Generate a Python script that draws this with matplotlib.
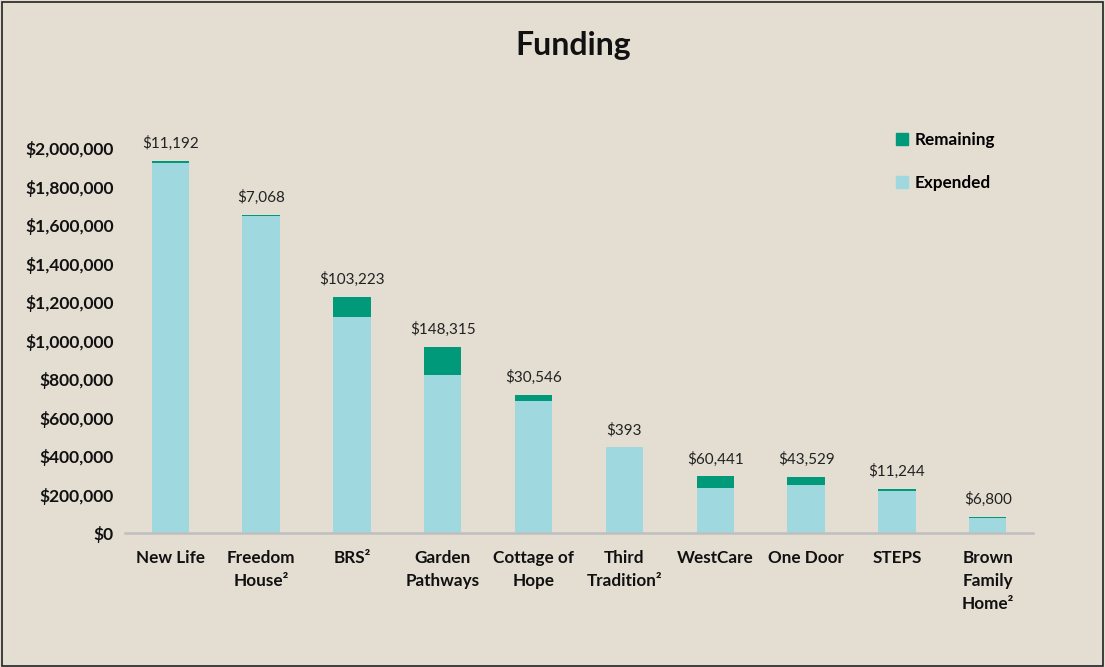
import matplotlib
matplotlib.use("Agg")
import matplotlib.pyplot as plt
from matplotlib.patches import Rectangle, Patch
from matplotlib.ticker import FuncFormatter
import numpy as np

plt.rcParams['font.family'] = ['Lato', 'DejaVu Sans']

programs = ['New Life', 'Freedom\nHouse²', 'BRS²', 'Garden\nPathways', 'Cottage of\nHope',
            'Third\nTradition²', 'WestCare', 'One Door', 'STEPS', 'Brown\nFamily\nHome²']
expended = [1925000, 1648000, 1125000, 820000, 688000, 446000, 235000, 251000, 220000, 79000]
remaining = [11192, 7068, 103223, 148315, 30546, 393, 60441, 43529, 11244, 6800]

bg = '#E3DDD2'
c_exp = '#A0D8E0'
c_rem = '#00997A'

fig = plt.figure(figsize=(11.05, 6.67), dpi=100, facecolor=bg)
ax = fig.add_axes([0.113, 0.2005, 0.822, 0.5772])
ax.set_facecolor(bg)

x = np.arange(len(programs))
ax.bar(x, expended, width=0.41, color=c_exp, label='Expended', zorder=2)
ax.bar(x, remaining, width=0.41, bottom=expended, color=c_rem, label='Remaining', zorder=2)

for xi, e, r in zip(x, expended, remaining):
    ax.annotate('${:,}'.format(r), (xi, e + r), xytext=(0, 7), textcoords='offset points',
                ha='center', va='bottom', fontsize=11, color='#222222', annotation_clip=False)

ax.set_xlim(-0.5, len(programs) - 0.5)
ax.set_ylim(0, 2000000)
ax.set_yticks(np.arange(0, 2000001, 200000))
ax.yaxis.set_major_formatter(FuncFormatter(lambda v, p: '${:,.0f}'.format(v)))
ax.set_xticks(x)
ax.set_xticklabels(programs, fontweight='bold', fontsize=12.3, linespacing=1.55)
for lab in ax.get_yticklabels():
    lab.set_fontweight('bold')
    lab.set_fontsize(12.5)
ax.tick_params(axis='both', length=0, colors='#111111')
ax.tick_params(axis='x', pad=12)
ax.tick_params(axis='y', pad=8)

for s in ['top', 'right', 'left']:
    ax.spines[s].set_visible(False)
ax.spines['bottom'].set_color('#BFBFBF')
ax.spines['bottom'].set_linewidth(1.8)
ax.spines['bottom'].set_zorder(3)

fig.text(0.519, 0.932, 'Funding', ha='center', va='center', fontsize=23, fontweight='bold', color='#111111')

handles = [Patch(color=c_rem, label='Remaining'), Patch(color=c_exp, label='Expended')]
leg = fig.legend(handles=handles, loc='upper left', bbox_to_anchor=(0.797, 0.825), frameon=False,
                 prop={'weight': 'bold', 'size': 12.3}, labelspacing=1.6,
                 handlelength=0.7, handleheight=0.7, handletextpad=0.4)

fig.patches.append(Rectangle((0.002, 0.002), 0.996, 0.995, transform=fig.transFigure,
                             fill=False, edgecolor='#222222', linewidth=1.2))

fig.savefig('out.png', dpi=100, facecolor=bg)
